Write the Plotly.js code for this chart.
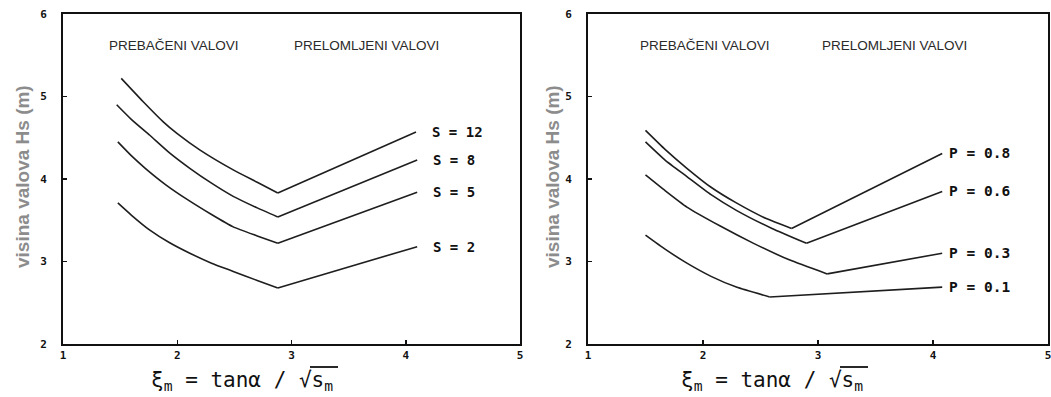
<!DOCTYPE html>
<html>
<head>
<meta charset="utf-8">
<script src="https://cdn.plot.ly/plotly-3.0.1.min.js"></script>
<style>html,body{margin:0;padding:0;background:#fff;}#chart{width:1051px;height:397px;}</style>
</head>
<body>
<div id="chart"></div>
<script>
// ---- data ----
const xTicks = [1, 2, 3, 4, 5];
const yTicks = [2, 3, 4, 5, 6];
const yTitle = 'visina valova Hs (m)';
const headerLeft = 'PREBAČENI VALOVI';
const headerRight = 'PRELOMLJENI VALOVI';

const sLabels = ['S = 12', 'S = 8', 'S = 5', 'S = 2'];
const s12X = [1.51, 1.70, 1.88, 2.00, 2.20, 2.49, 2.70, 2.88, 4.09];
const s12Y = [5.22, 4.94, 4.69, 4.55, 4.35, 4.11, 3.96, 3.83, 4.57];
const s8X  = [1.47, 1.60, 1.76, 1.93, 2.11, 2.30, 2.49, 2.70, 2.88, 4.10];
const s8Y  = [4.90, 4.72, 4.53, 4.32, 4.13, 3.95, 3.79, 3.65, 3.54, 4.23];
const s5X  = [1.48, 1.60, 1.72, 1.90, 2.09, 2.30, 2.49, 2.70, 2.88, 4.10];
const s5Y  = [4.45, 4.28, 4.13, 3.93, 3.75, 3.57, 3.42, 3.31, 3.22, 3.84];
const s2X  = [1.48, 1.60, 1.76, 1.93, 2.11, 2.30, 2.49, 2.70, 2.88, 4.10];
const s2Y  = [3.71, 3.56, 3.38, 3.23, 3.10, 2.98, 2.88, 2.77, 2.68, 3.18];

const pLabels = ['P = 0.8', 'P = 0.6', 'P = 0.3', 'P = 0.1'];
const p8X = [1.50, 1.67, 1.86, 2.07, 2.29, 2.55, 2.77, 4.08];
const p8Y = [4.59, 4.36, 4.13, 3.90, 3.71, 3.52, 3.40, 4.31];
const p6X = [1.50, 1.67, 1.86, 2.07, 2.29, 2.60, 2.90, 4.08];
const p6Y = [4.45, 4.23, 4.03, 3.81, 3.62, 3.40, 3.22, 3.85];
const p3X = [1.50, 1.67, 1.86, 2.15, 2.44, 2.75, 3.08, 4.08];
const p3Y = [4.05, 3.86, 3.66, 3.43, 3.22, 3.02, 2.85, 3.10];
const p1X = [1.50, 1.67, 1.86, 2.07, 2.29, 2.58, 4.08];
const p1Y = [3.32, 3.15, 2.98, 2.82, 2.69, 2.57, 2.69];

// ---- layout helpers ----
const W = 1051, H = 397, TOP = 14, BOT = 344;
const px = v => v / W;
const py = v => (BOT - v) / (BOT - TOP);
const lineCol = '#1e1e1e';
const mono = 'DejaVu Sans Mono, monospace';
const sans = 'Liberation Sans, Arial, sans-serif';

const leftSeries = [[s12X, s12Y], [s8X, s8Y], [s5X, s5Y], [s2X, s2Y]];
const rightSeries = [[p8X, p8Y], [p6X, p6Y], [p3X, p3Y], [p1X, p1Y]];

const traces = [];
function addSeries(x, y, xa, ya) {
  const n = x.length;
  // curved branch (up to the kink) and straight branch (kink to end)
  traces.push({x: x.slice(0, n - 1), y: y.slice(0, n - 1), xaxis: xa, yaxis: ya, mode: 'lines',
    line: {color: lineCol, width: 1.6, shape: 'spline', smoothing: 0.5}, hoverinfo: 'skip'});
  traces.push({x: x.slice(n - 2), y: y.slice(n - 2), xaxis: xa, yaxis: ya, mode: 'lines',
    line: {color: lineCol, width: 1.6}, hoverinfo: 'skip'});
}
leftSeries.forEach(([x, y]) => addSeries(x, y, 'x', 'y'));
rightSeries.forEach(([x, y]) => addSeries(x, y, 'x2', 'y2'));

const annotations = [];
leftSeries.forEach(([x, y], i) => annotations.push({
  x: x[x.length - 1], y: y[y.length - 1], xref: 'x', yref: 'y', text: sLabels[i],
  xanchor: 'left', yanchor: 'middle', xshift: 14, showarrow: false,
  font: {family: mono, size: 14, color: '#111', weight: 'bold'}
}));
rightSeries.forEach(([x, y], i) => annotations.push({
  x: x[x.length - 1], y: y[y.length - 1], xref: 'x2', yref: 'y2', text: pLabels[i],
  xanchor: 'left', yanchor: 'middle', xshift: 5, showarrow: false,
  font: {family: mono, size: 14.5, color: '#111', weight: 'bold'}
}));

// headers
[[107, headerLeft], [292, headerRight], [638, headerLeft], [820, headerRight]].forEach(([l, t]) => annotations.push({
  x: px(l), y: py(46), xref: 'paper', yref: 'paper', text: t, xanchor: 'left', yanchor: 'middle',
  showarrow: false, font: {family: sans, size: 13.5, color: '#2a2a2a'}
}));
// y titles
[22, 552].forEach(cx => annotations.push({
  x: px(cx), y: py(177), xref: 'paper', yref: 'paper', text: yTitle, textangle: -90,
  xanchor: 'center', yanchor: 'middle', showarrow: false,
  font: {family: sans, size: 19, color: '#8c8c8c', weight: 'bold'}
}));
// x titles
const xTitle = 'ξ<sub>m</sub> = tanα / √s<sub>m</sub>';
[242, 772].forEach(cx => annotations.push({
  x: px(cx), y: py(381), xref: 'paper', yref: 'paper', text: xTitle,
  xanchor: 'center', yanchor: 'middle', showarrow: false,
  font: {family: mono, size: 21, color: '#111'}
}));
// radical overlines
const shapes = [[310, 338], [840, 868]].map(([a, b]) => ({
  type: 'line', xref: 'paper', yref: 'paper', x0: px(a), x1: px(b), y0: py(367), y1: py(367),
  line: {color: '#111', width: 1.8}
}));

const axisCommon = {
  showgrid: false, zeroline: false, showline: true, linecolor: '#111', linewidth: 2,
  mirror: true, ticks: 'inside', ticklen: 4, tickwidth: 1.5, tickcolor: '#111',
  tickfont: {family: mono, size: 11, color: '#111', weight: 'bold'}, fixedrange: true
};

const layout = {
  width: W, height: H,
  margin: {l: 0, r: 0, t: TOP, b: H - BOT},
  paper_bgcolor: '#fff', plot_bgcolor: '#fff',
  showlegend: false,
  xaxis: Object.assign({}, axisCommon, {domain: [px(63), px(520)], range: [1, 5], tickvals: xTicks, anchor: 'y'}),
  yaxis: Object.assign({}, axisCommon, {domain: [0, 1], range: [2, 6], tickvals: yTicks, anchor: 'x', ticklabelstandoff: 12}),
  xaxis2: Object.assign({}, axisCommon, {domain: [px(588), px(1048)], range: [1, 5], tickvals: xTicks, anchor: 'y2', ticklabeloverflow: 'allow'}),
  yaxis2: Object.assign({}, axisCommon, {domain: [0, 1], range: [2, 6], tickvals: yTicks, anchor: 'x2', ticklabelstandoff: 12}),
  annotations, shapes
};

Plotly.newPlot('chart', traces, layout, {displayModeBar: false, staticPlot: true});
</script>
</body>
</html>
